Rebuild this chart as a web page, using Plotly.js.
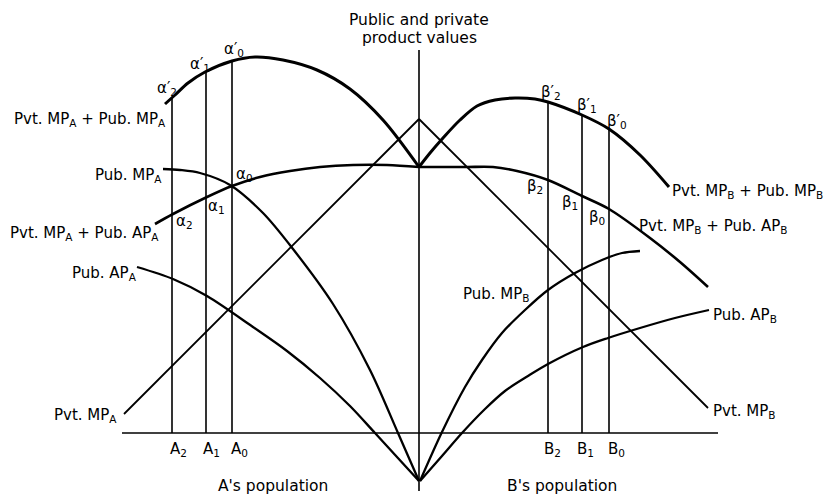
<!DOCTYPE html>
<html><head><meta charset="utf-8">
<script src="https://cdn.plot.ly/plotly-3.0.1.min.js"></script>
<style>html,body{margin:0;padding:0;background:#fff}#chart{width:827px;height:495px}</style>
</head><body><div id="chart"></div>
<script>
// Values: x = position along the population axes, y = product value above the horizontal axis
// A side
const sumMPA_x = [165,175,188,205,232,255,283,317,350,383,419];
const sumMPA_y = [329,338,350,361,372,376,373,363,344,313,266];
const pubMPA_x = [163,180,200,230,263,293,333,370,398,419];
const pubMPA_y = [264,263,260,248,220,184,129,63,0,-48];
const pubAPA_x = [137,173,207,253,287,320,350,375,419];
const pubAPA_y = [166,154,137,106,82,55,27,0,-48];
const sumAPA_x = [155,173,207,232,260,290,320,353,387,419];
const sumAPA_y = [209,219,236,247,256,262,266,268,268,266];
const pvtMPA_x = [124,419];
const pvtMPA_y = [19,314];
// B side
const sumMPB_x = [419,430,443,460,477,495,515,535,548,582,609,640,669];
const sumMPB_y = [266,280,295,313,327,333,335,334,331,318,304,278,246];
const sumAPB_x = [419,443,467,493,517,548,582,609,650,680,708];
const sumAPB_y = [266,266,266,266,262,253,237,224,195,171,146];
const pubMPB_x = [420,442,465,482,502,525,548,575,602,622,640];
const pubMPB_y = [-48,1,46,73,100,123,143,160,173,180,182];
const pubAPB_x = [420,442,462,485,505,528,548,583,608,640,675,709];
const pubAPB_y = [-48,-23,0,24,42,57,69,86,95,105,115,123];
const pvtMPB_x = [419,708];
const pvtMPB_y = [314,25];
// population levels and the values at the top of their verticals
const aPop = [172,206,232];
const aTop = [335,361,372];
const bPop = [548,582,609];
const bTop = [331,318,304];
const aPopLabels = ['A<sub>2</sub>','A<sub>1</sub>','A<sub>0</sub>'];
const bPopLabels = ['B<sub>2</sub>','B<sub>1</sub>','B<sub>0</sub>'];
// axes
const valueAxis_x = [419,419];
const valueAxis_y = [383,-58];
const popAxis_x = [122,718];
const popAxis_y = [0,0];

function line(x,y,w,spline){
  return {type:'scatter',mode:'lines',x:x,y:y,hoverinfo:'skip',showlegend:false,
    line:{color:'#000',width:w,shape:spline?'spline':'linear',smoothing:0.9}};
}
function verticals(xs,tops){
  const x=[],y=[];
  xs.forEach((v,i)=>{x.push(v,v,null);y.push(0,tops[i],null);});
  return line(x,y,1.6,false);
}
const traces = [
  line(popAxis_x,popAxis_y,1.6,false),
  line(valueAxis_x,valueAxis_y,1.6,false),
  verticals(aPop,aTop),
  verticals(bPop,bTop),
  line(pvtMPA_x,pvtMPA_y,1.8,false),
  line(pvtMPB_x,pvtMPB_y,1.8,false),
  line(sumMPA_x,sumMPA_y,3,true),
  line(sumMPB_x,sumMPB_y,3,true),
  line(sumAPA_x,sumAPA_y,2.6,true),
  line(sumAPB_x,sumAPB_y,2.6,true),
  line(pubMPA_x,pubMPA_y,2.3,true),
  line(pubAPA_x,pubAPA_y,2.3,true),
  line(pubMPB_x,pubMPB_y,2.3,true),
  line(pubAPB_x,pubAPB_y,2.3,true)
];

const FONT = {family:'DejaVu Sans, Liberation Sans, sans-serif', size:15, color:'#000'};
// label placement in pixel coords of the 827x495 page (y measured from top)
function ann(text,px,py,xa,size){
  return {text:text,x:px,y:433-py,xref:'x',yref:'y',showarrow:false,
    xanchor:xa||'center',yanchor:'middle',font:Object.assign({},FONT,size?{size:size}:{})};
}
const annotations = [
  ann('Public and private',419,20,'center',15.5),
  ann('product values',419,38,'center',15.5),
  ann('Pvt. MP<sub>A</sub> + Pub. MP<sub>A</sub>',168,119,'right'),
  ann('Pub. MP<sub>A</sub>',164,175,'right'),
  ann('Pvt. MP<sub>A</sub> + Pub. AP<sub>A</sub>',161,233,'right'),
  ann('Pub. AP<sub>A</sub>',139,273,'right'),
  ann('Pvt. MP<sub>A</sub>',119,415,'right'),
  ann("A's population",273,486,'center',15.5),
  ann("B's population",562,486,'center',15.5),
  ann('Pvt. MP<sub>B</sub>',711,411,'left'),
  ann('Pub. AP<sub>B</sub>',711,315,'left'),
  ann('Pub. MP<sub>B</sub>',461,294,'left'),
  ann('Pvt. MP<sub>B</sub> + Pub. MP<sub>B</sub>',670,191,'left'),
  ann('Pvt. MP<sub>B</sub> + Pub. AP<sub>B</sub>',637,226,'left'),
  ann("α′<sub>2</sub>",167,88),
  ann("α′<sub>1</sub>",200,64),
  ann("α′<sub>0</sub>",234,49),
  ann("α<sub>0</sub>",244,174),
  ann("α<sub>1</sub>",216,206),
  ann("α<sub>2</sub>",184,221),
  ann("β′<sub>2</sub>",551,92),
  ann("β′<sub>1</sub>",587,105),
  ann("β′<sub>0</sub>",617,121),
  ann("β<sub>2</sub>",535,186),
  ann("β<sub>1</sub>",570,202),
  ann("β<sub>0</sub>",597,217)
];
const popLabelY = 449;
aPop.forEach((p,i)=>annotations.push(ann(aPopLabels[i],[178,211,239][i],popLabelY)));
bPop.forEach((p,i)=>annotations.push(ann(bPopLabels[i],[552,585,616][i],popLabelY)));

const layout = {
  width:827,height:495,margin:{l:0,r:0,t:0,b:0},
  paper_bgcolor:'#fff',plot_bgcolor:'#fff',
  xaxis:{range:[0,827],visible:false,fixedrange:true},
  yaxis:{range:[-62,433],visible:false,fixedrange:true},
  annotations:annotations,showlegend:false
};
Plotly.newPlot('chart',traces,layout,{staticPlot:true,displayModeBar:false});
</script>
</body></html>
